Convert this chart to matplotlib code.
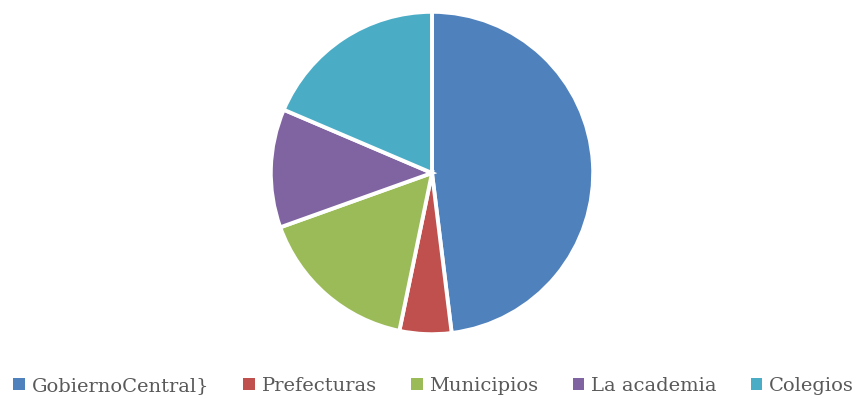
import matplotlib.pyplot as plt
from matplotlib.patches import Patch

# Shares by sector
labels = ["GobiernoCentral}", "Prefecturas", "Municipios", "La academia", "Colegios"]
values = [48.1, 5.2, 16.3, 11.9, 18.6]
colors = ["#4F81BD", "#C0504D", "#9BBB59", "#8064A2", "#4BACC6"]

W, H = 862, 399
fig = plt.figure(figsize=(W / 100, H / 100), dpi=100)

cx, cy, r = 432, 173, 162
ax = fig.add_axes([(cx - r) / W, (H - cy - r) / H, 2 * r / W, 2 * r / H])
ax.pie(values, colors=colors, startangle=90, counterclock=False,
       wedgeprops=dict(edgecolor="white", linewidth=2.8))
ax.set_xlim(-1.005, 1.005)
ax.set_ylim(-1.005, 1.005)
ax.axis("off")

handles = [Patch(facecolor=c, edgecolor="none") for c in colors]
fig.legend(handles, labels, loc="center", bbox_to_anchor=(0.503, 13 / H), ncol=5,
           frameon=False, handlelength=0.6, handleheight=0.6, handletextpad=0.35,
           columnspacing=1.75, prop=dict(family="DejaVu Serif", size=14),
           labelcolor="#595959", borderaxespad=0, borderpad=0)

fig.savefig("out.png", dpi=100)
